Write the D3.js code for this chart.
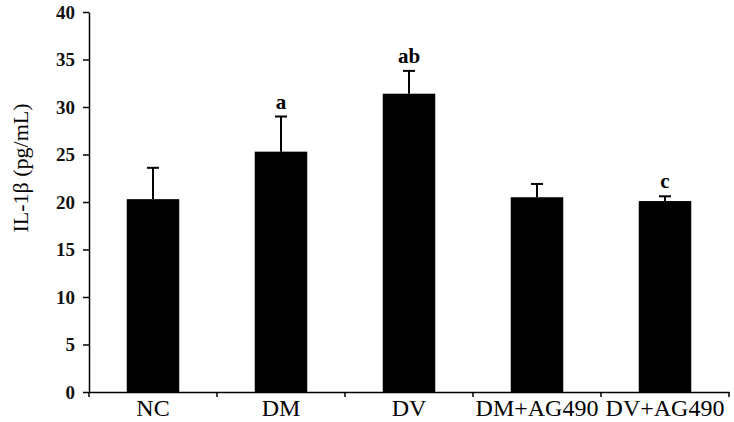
<!DOCTYPE html>
<html><head><meta charset="utf-8">
<script src="https://cdn.jsdelivr.net/npm/d3@7/dist/d3.min.js"></script>
<style>body{margin:0;background:#fff}svg{display:block}</style>
</head><body>
<svg id="c" width="734" height="422"></svg>
<script>
const categories = ["NC","DM","DV","DM+AG490","DV+AG490"];
const means = [20.3, 25.3, 31.4, 20.5, 20.1];
const errors = [3.3, 3.7, 2.4, 1.4, 0.5];
const sigLabels = ["", "a", "ab", "", "c"];
const yTicks = [0,5,10,15,20,25,30,35,40];
const yLabel = "IL-1β (pg/mL)";

const svg = d3.select("#c");
const x0 = 89, x1 = 729, yTop = 12, yBot = 392;
const x = d3.scaleBand().domain(categories).range([x0, x1]).padding(0);
const y = d3.scaleLinear().domain([0,40]).range([yBot, yTop]);
const serif = "'Liberation Serif','Times New Roman',serif";

// bars
const bw = x.bandwidth()*0.41;
svg.selectAll("rect.bar").data(categories).join("rect")
  .attr("x", d => x(d) + x.bandwidth()/2 - bw/2)
  .attr("y", (d,i) => y(means[i]))
  .attr("width", bw)
  .attr("height", (d,i) => y(0) - y(means[i]))
  .attr("fill", "#000");

// error bars
const eb = svg.append("g").attr("stroke","#000").attr("stroke-width",2);
categories.forEach((c,i) => {
  const cx = x(c) + x.bandwidth()/2;
  eb.append("line").attr("x1",cx).attr("x2",cx).attr("y1",y(means[i])).attr("y2",y(means[i]+errors[i]));
  eb.append("line").attr("x1",cx-6).attr("x2",cx+6).attr("y1",y(means[i]+errors[i])).attr("y2",y(means[i]+errors[i]));
});

// significance labels
svg.selectAll("text.sig").data(categories).join("text")
  .attr("x", d => x(d) + x.bandwidth()/2)
  .attr("y", (d,i) => y(means[i]+errors[i]) - 8)
  .attr("text-anchor","middle")
  .attr("font-family", serif).attr("font-weight","bold").attr("font-size",21)
  .text((d,i) => sigLabels[i]);

// y axis
const yAxis = svg.append("g").attr("transform",`translate(${x0},0)`)
  .call(d3.axisLeft(y).tickValues(yTicks).tickSize(6).tickPadding(8).tickSizeOuter(0));
yAxis.select(".domain").attr("stroke","#000").attr("stroke-width",1.5);
yAxis.selectAll(".tick line").attr("stroke","#000").attr("stroke-width",1.5);
yAxis.selectAll(".tick text").attr("font-family",serif).attr("font-weight","bold")
  .attr("font-size",19).attr("fill","#111");

// x axis
const xAxis = svg.append("g").attr("transform",`translate(0,${yBot})`)
  .call(d3.axisBottom(x).tickSize(0).tickPadding(0).tickSizeOuter(0));
xAxis.select(".domain").attr("stroke","#000").attr("stroke-width",1.5);
xAxis.selectAll(".tick text").attr("font-family",serif).attr("font-size",24).attr("fill","#000")
  .attr("y",24).attr("dy",0);
// band boundary ticks
const bounds = categories.map(c => x(c)).concat([x1]);
xAxis.selectAll("line.bt").data(bounds).join("line")
  .attr("x1",d=>d).attr("x2",d=>d).attr("y1",0).attr("y2",5)
  .attr("stroke","#000").attr("stroke-width",1.5);

// y label
svg.append("text")
  .attr("transform","translate(28,168) rotate(-90)")
  .attr("text-anchor","middle")
  .attr("font-family",serif).attr("font-size",22).attr("fill","#000")
  .text(yLabel);
</script>
</body></html>
